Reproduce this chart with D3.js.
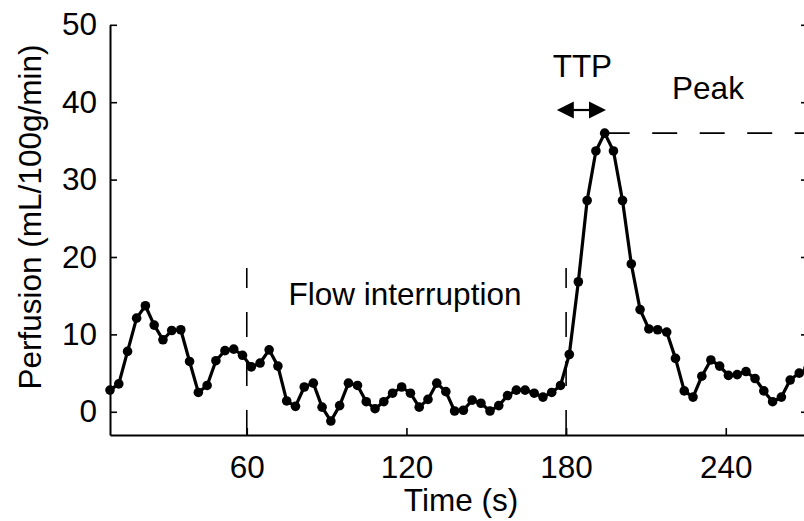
<!DOCTYPE html>
<html>
<head>
<meta charset="utf-8">
<script src="https://cdn.jsdelivr.net/npm/d3@7"></script>
<style>
  body { margin: 0; background: #fff; }
  svg { display: block; font-family: "Liberation Sans", Arial, Helvetica, sans-serif; }
</style>
</head>
<body>
<div id="chart"></div>
<script>
// sample times (s) and perfusion values
var times = [
    8.6, 11.9, 15.2, 18.6, 21.9, 25.2, 28.5, 31.8, 35.2, 38.5,
    41.8, 45.1, 48.4, 51.8, 55.1, 58.4, 61.7, 65.0, 68.4, 71.7,
    75.0, 78.3, 81.6, 85.0, 88.3, 91.6, 94.9, 98.2, 101.6, 104.9,
    108.2, 111.5, 114.8, 118.2, 121.5, 124.8, 128.1, 131.4, 134.8, 138.1,
    141.4, 144.7, 148.0, 151.4, 154.7, 158.0, 161.3, 164.6, 168.0, 171.3,
    174.6, 177.9, 181.2, 184.6, 187.9, 191.2, 194.5, 197.8, 201.2, 204.5,
    207.8, 211.1, 214.4, 217.8, 221.1, 224.4, 227.7, 231.0, 234.4, 237.7,
    241.0, 244.3, 247.6, 251.0, 254.3, 257.6, 260.9, 264.2, 267.6, 270.9
];
var perfusion = [
    2.8, 3.6, 7.8, 12.1, 13.7, 11.2, 9.3, 10.5, 10.6, 6.5,
    2.5, 3.4, 6.6, 7.9, 8.1, 7.3, 5.8, 6.3, 8.0, 5.9,
    1.4, 0.7, 3.2, 3.7, 0.6, -1.2, 0.8, 3.7, 3.4, 1.3,
    0.4, 1.3, 2.4, 3.2, 2.4, 0.6, 1.6, 3.7, 2.6, 0.1,
    0.2, 1.5, 1.1, 0.1, 0.8, 2.1, 2.8, 2.8, 2.4, 1.9,
    2.5, 3.4, 7.4, 16.8, 27.3, 33.7, 36.0, 33.7, 27.3, 19.1,
    13.2, 10.7, 10.6, 10.3, 6.9, 2.7, 1.9, 4.6, 6.7, 5.9,
    4.7, 4.8, 5.2, 4.3, 2.7, 1.3, 1.9, 4.1, 5.0, 5.6
];
var xTicks = [60, 120, 180, 240];
var yTicks = [0, 10, 20, 30, 40, 50];
var markerTimes = [60, 180];          // dashed vertical lines
var ttpRange = [176.5, 195];          // TTP arrow span (s)

window.onload = function(){
    drawChart();
};

function drawChart(){
    var width = 804, height = 521;
    var fontSize = 31.5;
    var svg = d3.select("#chart").append("svg")
                .attr("width", width).attr("height", height);

    var xScale = d3.scaleLinear().domain([8.6, 269.4]).range([110, 804]);
    var yScale = d3.scaleLinear().domain([-3, 50]).range([435, 24.8]);

    var data = times.map(function(t, i){ return {t: t, v: perfusion[i]}; });
    var peak = d3.max(perfusion);
    var peakTime = times[perfusion.indexOf(peak)];

    // dashed vertical lines (drawn from the axis upwards so dashes line up at the bottom)
    svg.selectAll(".vline")
        .data(markerTimes)
        .enter()
        .append("line")
        .attr("class", "vline")
        .attr("x1", function(d){ return xScale(d); })
        .attr("x2", function(d){ return xScale(d); })
        .attr("y1", yScale(-3))
        .attr("y2", 268)
        .attr("stroke", "#000")
        .attr("stroke-width", 1.6)
        .attr("stroke-dasharray", "25,24");

    // peak level
    svg.append("line")
        .attr("x1", xScale(peakTime))
        .attr("x2", width + 10)
        .attr("y1", yScale(peak))
        .attr("y2", yScale(peak))
        .attr("stroke", "#000")
        .attr("stroke-width", 1.6)
        .attr("stroke-dasharray", "25,22.5");

    // axes
    var xAxis = svg.append("g")
        .attr("transform", "translate(0," + yScale(-3) + ")")
        .call(d3.axisBottom(xScale).tickValues(xTicks).tickSize(-7).tickSizeOuter(0).tickPadding(21));

    var yAxis = svg.append("g")
        .attr("transform", "translate(" + xScale.range()[0] + ",0)")
        .call(d3.axisLeft(yScale).tickValues(yTicks).tickSize(-7).tickSizeOuter(0).tickPadding(13));

    var yAxisRight = svg.append("g")
        .attr("transform", "translate(807,0)")
        .call(d3.axisRight(yScale).tickValues(yTicks).tickSize(-6).tickSizeOuter(0).tickFormat(""));

    [xAxis, yAxis, yAxisRight].forEach(function(a){
        a.select(".domain").attr("stroke-width", 2);
        a.selectAll(".tick line").attr("stroke-width", 1.6);
        a.selectAll("text").attr("font-size", fontSize).attr("fill", "#000")
            .attr("font-family", "'Liberation Sans', Arial, Helvetica, sans-serif");
    });

    // curve
    var line = d3.line()
        .x(function(d){ return xScale(d.t); })
        .y(function(d){ return yScale(d.v); });

    svg.append("path")
        .datum(data)
        .attr("d", line)
        .attr("fill", "none")
        .attr("stroke", "#000")
        .attr("stroke-width", 3.2)
        .attr("stroke-linejoin", "round");

    svg.selectAll(".dot")
        .data(data)
        .enter()
        .append("circle")
        .attr("class", "dot")
        .attr("cx", function(d){ return xScale(d.t); })
        .attr("cy", function(d){ return yScale(d.v); })
        .attr("r", 4.8)
        .attr("fill", "#000");

    // TTP arrow
    var ay = 110, ah = 17, aw = 8.5;
    var ax1 = xScale(ttpRange[0]), ax2 = xScale(ttpRange[1]);
    svg.append("line")
        .attr("x1", ax1 + ah - 2).attr("x2", ax2 - ah + 2)
        .attr("y1", ay).attr("y2", ay)
        .attr("stroke", "#000").attr("stroke-width", 2.2);
    svg.append("path")
        .attr("d", "M" + ax1 + "," + ay + "L" + (ax1 + ah) + "," + (ay - aw) + "L" + (ax1 + ah) + "," + (ay + aw) + "Z")
        .attr("fill", "#000");
    svg.append("path")
        .attr("d", "M" + ax2 + "," + ay + "L" + (ax2 - ah) + "," + (ay - aw) + "L" + (ax2 - ah) + "," + (ay + aw) + "Z")
        .attr("fill", "#000");

    // annotations
    svg.append("text")
        .attr("x", (ax1 + ax2) / 2 + 1).attr("y", 77)
        .attr("text-anchor", "middle")
        .attr("font-size", fontSize)
        .text("TTP");

    svg.append("text")
        .attr("x", 708).attr("y", 99)
        .attr("text-anchor", "middle")
        .attr("font-size", fontSize)
        .text("Peak");

    svg.append("text")
        .attr("x", 405).attr("y", 305)
        .attr("text-anchor", "middle")
        .attr("font-size", fontSize)
        .text("Flow interruption");

    // axis titles
    svg.append("text")
        .attr("x", 461).attr("y", 511)
        .attr("text-anchor", "middle")
        .attr("font-size", fontSize)
        .text("Time (s)");

    svg.append("text")
        .attr("transform", "translate(41,217) rotate(-90)")
        .attr("text-anchor", "middle")
        .attr("font-size", fontSize)
        .text("Perfusion (mL/100g/min)");
}
</script>
</body>
</html>
